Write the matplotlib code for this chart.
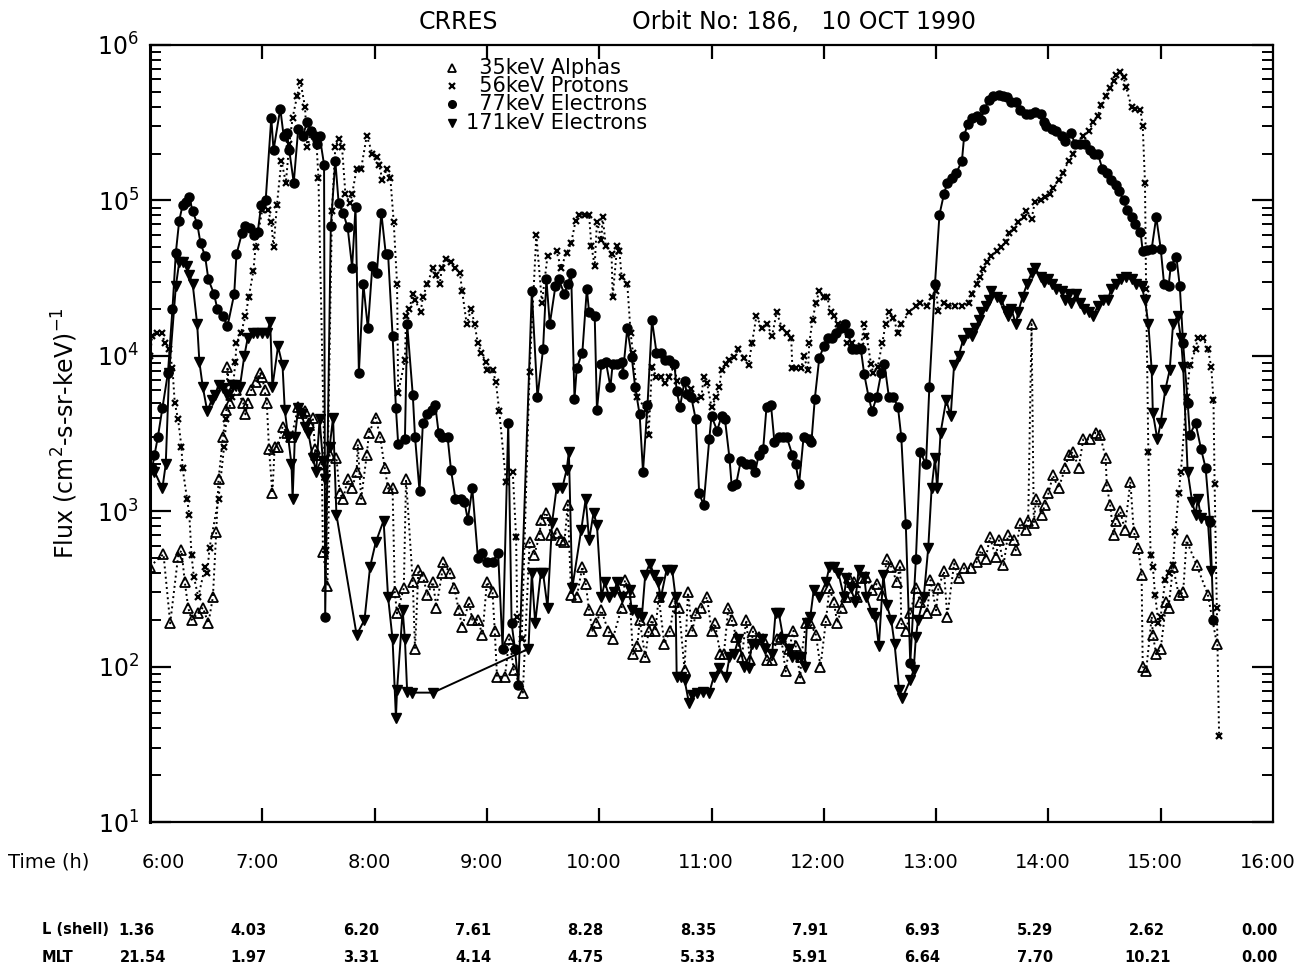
import numpy as np
import matplotlib
matplotlib.use("Agg")
from matplotlib import pyplot as plt
from matplotlib.lines import Line2D
from matplotlib.ticker import LogLocator, NullFormatter, NullLocator

# --- data (time in hours, flux) ---
e77_t = [6.02, 6.04, 6.07, 6.11, 6.16, 6.20, 6.23, 6.26, 6.29, 6.32, 6.35, 6.38, 6.42, 6.45, 6.49,
         6.52, 6.57, 6.60, 6.65, 6.69, 6.75, 6.77, 6.82, 6.85, 6.89, 6.93, 6.96, 6.99, 7.03, 7.08,
         7.10, 7.16, 7.19, 7.22, 7.24, 7.28, 7.32, 7.36, 7.40, 7.43, 7.47, 7.49, 7.51, 7.55, 7.56,
         7.61, 7.65, 7.68, 7.72, 7.76, 7.80, 7.83, 7.86, 7.90, 7.94, 7.98, 8.02, 8.06, 8.10, 8.12,
         8.16, 8.19, 8.21, 8.27, 8.29, 8.34, 8.36, 8.40, 8.43, 8.47, 8.51, 8.54, 8.57, 8.60, 8.65,
         8.68, 8.72, 8.77, 8.80, 8.83, 8.87, 8.92, 8.96, 9.00, 9.05, 9.10, 9.14, 9.19, 9.22, 9.25,
         9.28, 9.40, 9.45, 9.50, 9.53, 9.56, 9.61, 9.64, 9.69, 9.72, 9.75, 9.78, 9.80, 9.85, 9.89,
         9.91, 9.96, 9.98, 10.02, 10.06, 10.10, 10.12, 10.16, 10.20, 10.21, 10.25, 10.29, 10.32,
         10.36, 10.39, 10.43, 10.47, 10.51, 10.55, 10.59, 10.62, 10.67, 10.69, 10.72, 10.76, 10.78,
         10.82, 10.86, 10.89, 10.93, 10.98, 11.00, 11.05, 11.09, 11.12, 11.16, 11.18, 11.22, 11.26,
         11.31, 11.35, 11.39, 11.42, 11.46, 11.49, 11.53, 11.56, 11.60, 11.64, 11.67, 11.72, 11.75,
         11.78, 11.82, 11.87, 11.89, 11.92, 11.96, 12.00, 12.04, 12.07, 12.11, 12.15, 12.19, 12.22,
         12.25, 12.29, 12.33, 12.36, 12.40, 12.43, 12.47, 12.51, 12.54, 12.58, 12.62, 12.66, 12.69,
         12.73, 12.77, 12.82, 12.86, 12.91, 12.94, 12.99, 13.03, 13.07, 13.10, 13.14, 13.18, 13.23,
         13.25, 13.28, 13.32, 13.36, 13.40, 13.43, 13.47, 13.51, 13.56, 13.60, 13.63, 13.67, 13.71,
         13.75, 13.80, 13.84, 13.88, 13.93, 13.96, 13.98, 14.03, 14.07, 14.12, 14.15, 14.20, 14.24,
         14.28, 14.33, 14.37, 14.41, 14.44, 14.48, 14.52, 14.56, 14.60, 14.63, 14.67, 14.70, 14.74,
         14.77, 14.82, 14.84, 14.88, 14.92, 14.96, 15.00, 15.03, 15.07, 15.09, 15.14, 15.17, 15.20,
         15.24, 15.26, 15.31, 15.36, 15.40, 15.44, 15.47]
e77_f = [1.9e3, 2.3e3, 3.0e3, 4.6e3, 7.8e3, 2.0e4, 4.6e4, 7.4e4, 9.3e4, 9.8e4, 1.05e5, 8.5e4, 7.1e4, 5.3e4, 4.4e4,
         3.1e4, 2.5e4, 2.0e4, 1.8e4, 1.55e4, 2.5e4, 4.5e4, 6.2e4, 6.8e4, 6.6e4, 6.0e4, 6.3e4, 9.3e4, 1.0e5, 3.4e5,
         2.1e5, 3.9e5, 2.6e5, 2.7e5, 2.1e5, 1.3e5, 2.9e5, 2.6e5, 3.2e5, 2.8e5, 2.6e5, 2.3e5, 2.6e5, 1.7e5, 2.1e2,
         6.8e4, 1.8e5, 9.6e4, 8.3e4, 6.7e4, 3.7e4, 9.1e4, 7.8e3, 2.9e4, 1.5e4, 3.8e4, 3.4e4, 8.3e4, 4.5e4, 4.5e4,
         1.35e4, 4.6e3, 2.7e3, 2.9e3, 1.6e4, 5.6e3, 3.0e3, 1.35e3, 3.7e3, 4.2e3, 4.5e3, 4.8e3, 3.2e3, 3.0e3, 3.0e3,
         1.85e3, 1.2e3, 1.2e3, 1.15e3, 8.8e2, 1.4e3, 5.0e2, 5.4e2, 4.7e2, 4.7e2, 5.4e2, 1.3e2, 3.7e3, 1.9e2, 1.3e2,
         7.6e1, 2.6e4, 5.4e3, 1.1e4, 3.1e4, 1.6e4, 2.8e4, 3.1e4, 2.5e4, 2.9e4, 3.4e4, 5.3e3, 8.3e3, 1.05e4, 2.7e4,
         1.9e4, 1.8e4, 4.5e3, 8.9e3, 9.1e3, 6.3e3, 8.9e3, 8.9e3, 9.1e3, 7.6e3, 1.5e4, 9.8e3, 6.3e3,
         4.2e3, 1.8e3, 4.8e3, 1.7e4, 1.05e4, 1.05e4, 9.4e3, 9.4e3, 8.9e3, 5.9e3, 4.7e3, 6.9e3, 5.7e3,
         5.4e3, 3.9e3, 1.3e3, 1.1e3, 2.9e3, 4.1e3, 3.3e3, 4.1e3, 3.9e3, 2.2e3, 1.45e3, 1.5e3, 2.1e3,
         2.0e3, 2.0e3, 1.8e3, 2.3e3, 2.5e3, 4.7e3, 4.8e3, 2.8e3, 3.0e3, 3.0e3, 3.0e3, 2.3e3, 2.0e3,
         1.5e3, 3.0e3, 2.9e3, 2.8e3, 5.3e3, 9.7e3, 1.15e4, 1.3e4, 1.3e4, 1.4e4, 1.5e4, 1.6e4, 1.4e4,
         1.1e4, 1.1e4, 1.1e4, 7.6e3, 5.4e3, 4.4e3, 5.4e3, 7.7e3, 8.9e3, 5.4e3, 5.4e3, 4.7e3, 3.0e3,
         8.3e2, 1.05e2, 4.9e2, 2.4e3, 2.0e3, 6.3e3, 2.9e4, 8.1e4, 1.1e5, 1.3e5, 1.4e5, 1.5e5, 1.8e5,
         2.6e5, 3.1e5, 3.4e5, 3.5e5, 3.3e5, 3.9e5, 4.4e5, 4.7e5, 4.8e5, 4.7e5, 4.6e5, 4.3e5, 4.3e5,
         3.8e5, 3.6e5, 3.6e5, 3.7e5, 3.6e5, 3.2e5, 3.0e5, 2.9e5, 2.8e5, 2.6e5, 2.4e5, 2.7e5, 2.3e5,
         2.3e5, 2.3e5, 2.1e5, 2.0e5, 2.0e5, 1.6e5, 1.5e5, 1.35e5, 1.26e5, 1.15e5, 1.0e5, 8.7e4, 7.8e4,
         7.1e4, 6.3e4, 4.7e4, 4.8e4, 4.9e4, 7.8e4, 4.9e4, 2.9e4, 2.8e4, 3.8e4, 4.3e4, 2.8e4, 1.2e4,
         5.0e3, 3.1e3, 3.7e3, 2.5e3, 1.9e3, 8.5e2, 2.0e2]

p56_t = [6.00, 6.02, 6.06, 6.11, 6.13, 6.17, 6.20, 6.22, 6.25, 6.28, 6.29, 6.33, 6.35, 6.37, 6.39,
         6.43, 6.49, 6.51, 6.53, 6.61, 6.66, 6.68, 6.73, 6.76, 6.77, 6.81, 6.85, 6.88, 6.92, 6.94,
         7.00, 7.05, 7.08, 7.10, 7.13, 7.17, 7.21, 7.24, 7.27, 7.31, 7.34, 7.38, 7.40, 7.44, 7.48,
         7.50, 7.57, 7.62, 7.65, 7.68, 7.71, 7.74, 7.78, 7.80, 7.84, 7.88, 7.93, 7.98, 8.02, 8.04,
         8.07, 8.11, 8.14, 8.17, 8.20, 8.21, 8.27, 8.28, 8.31, 8.34, 8.36, 8.41, 8.43, 8.47, 8.52,
         8.55, 8.58, 8.60, 8.64, 8.68, 8.72, 8.76, 8.78, 8.82, 8.86, 8.89, 8.92, 8.95, 8.99, 9.00,
         9.05, 9.08, 9.11, 9.17, 9.23, 9.26, 9.27, 9.31, 9.38, 9.44, 9.49, 9.54, 9.62, 9.66, 9.71,
         9.75, 9.79, 9.82, 9.87, 9.91, 9.93, 9.96, 9.98, 10.02, 10.03, 10.06, 10.11, 10.12, 10.16,
         10.18, 10.20, 10.25, 10.28, 10.30, 10.34, 10.42, 10.44, 10.47, 10.51, 10.55, 10.59, 10.62,
         10.67, 10.69, 10.76, 10.82, 10.86, 10.91, 10.93, 10.96, 11.00, 11.04, 11.07, 11.09, 11.13,
         11.16, 11.20, 11.24, 11.29, 11.33, 11.36, 11.40, 11.45, 11.49, 11.54, 11.58, 11.63, 11.67,
         11.71, 11.72, 11.75, 11.80, 11.82, 11.86, 11.87, 11.90, 11.93, 11.96, 12.00, 12.03, 12.06,
         12.09, 12.13, 12.18, 12.21, 12.25, 12.29, 12.33, 12.36, 12.38, 12.42, 12.44, 12.48, 12.52,
         12.55, 12.58, 12.62, 12.66, 12.69, 12.76, 12.82, 12.86, 12.92, 12.96, 13.00, 13.02, 13.07,
         13.11, 13.17, 13.23, 13.29, 13.32, 13.36, 13.39, 13.42, 13.45, 13.49, 13.54, 13.58, 13.62,
         13.65, 13.69, 13.73, 13.78, 13.80, 13.85, 13.88, 13.93, 13.97, 14.01, 14.04, 14.09, 14.13,
         14.18, 14.22, 14.27, 14.31, 14.36, 14.40, 14.44, 14.47, 14.51, 14.55, 14.58, 14.60, 14.64,
         14.67, 14.69, 14.74, 14.77, 14.82, 14.84, 14.86, 14.87, 14.89, 14.91, 14.93, 14.95, 14.98,
         15.00, 15.04, 15.07, 15.11, 15.13, 15.16, 15.18, 15.23, 15.26, 15.31, 15.33, 15.38, 15.42,
         15.45, 15.47, 15.48, 15.50, 15.52]
p56_f = [1.0e4, 1.35e4, 1.4e4, 1.4e4, 1.2e4, 1.1e4, 8.3e3, 5.0e3, 3.9e3, 2.6e3, 1.9e3, 1.2e3, 9.5e2, 5.2e2, 3.8e2,
         2.8e2, 4.4e2, 4.0e2, 5.8e2, 1.2e3, 2.6e3, 3.9e3, 5.4e3, 9.1e3, 1.2e4, 1.4e4, 1.8e4, 2.4e4, 3.5e4, 5.0e4,
         8.7e4, 8.7e4, 7.3e4, 5.0e4, 9.3e4, 1.8e5, 1.3e5, 2.3e5, 3.4e5, 4.7e5, 5.8e5, 4.0e5, 2.2e5, 2.8e5, 2.5e5,
         1.4e5, 5.6e2, 8.5e4, 2.2e5, 2.5e5, 2.2e5, 1.1e5, 9.6e4, 1.1e5, 1.6e5, 1.6e5, 2.6e5, 2.0e5, 1.9e5, 1.7e5,
         1.35e5, 1.6e5, 1.4e5, 7.3e4, 2.9e4, 5.8e3, 9.4e3, 1.8e4, 2.0e4, 2.5e4, 2.3e4, 1.9e4, 2.4e4, 2.9e4, 3.7e4,
         3.3e4, 2.9e4, 3.7e4, 4.2e4, 4.0e4, 3.7e4, 3.4e4, 2.6e4, 1.6e4, 2.0e4, 1.6e4, 1.2e4, 1.05e4, 9.1e3, 8.1e3,
         8.1e3, 6.8e3, 4.4e3, 1.55e3, 1.8e3, 6.8e2, 2.1e2, 1.5e2, 7.9e3, 6.0e4, 2.2e4, 4.4e4, 4.7e4, 3.7e4, 4.6e4,
         5.3e4, 7.4e4, 8.1e4, 8.1e4, 8.1e4, 5.1e4, 3.8e4, 7.3e4, 5.6e4, 7.8e4, 5.1e4, 4.5e4, 2.4e4, 5.1e4,
         4.7e4, 3.2e4, 2.9e4, 1.4e4, 1.05e4, 5.4e3, 4.5e3, 3.1e3, 8.5e3, 7.3e3, 7.3e3, 6.7e3, 7.3e3,
         8.7e3, 6.9e3, 6.7e3, 6.1e3, 5.2e3, 5.4e3, 7.3e3, 6.7e3, 4.7e3, 5.4e3, 6.3e3, 8.1e3, 8.9e3,
         9.4e3, 9.8e3, 1.1e4, 9.7e3, 8.7e3, 1.2e4, 1.8e4, 1.5e4, 1.6e4, 1.35e4, 1.9e4, 1.5e4, 1.4e4,
         1.3e4, 8.3e3, 8.3e3, 8.3e3, 1.0e4, 8.1e3, 1.2e4, 1.7e4, 2.2e4, 2.6e4, 2.4e4, 2.4e4, 1.9e4,
         1.8e4, 1.6e4, 1.5e4, 1.2e4, 1.2e4, 1.1e4, 1.15e4, 1.6e4, 1.35e4, 8.9e3, 7.7e3, 8.5e3, 1.2e4,
         1.6e4, 1.9e4, 1.75e4, 1.4e4, 1.6e4, 1.9e4, 2.1e4, 2.2e4, 2.1e4, 2.4e4, 2.6e4, 1.95e4, 2.2e4,
         2.1e4, 2.1e4, 2.1e4, 2.2e4, 2.5e4, 2.9e4, 3.2e4, 3.6e4, 4.0e4, 4.4e4, 4.7e4, 5.0e4, 5.4e4,
         6.2e4, 6.5e4, 7.3e4, 7.8e4, 8.5e4, 7.6e4, 9.8e4, 1.0e5, 1.05e5, 1.1e5, 1.2e5, 1.35e5, 1.5e5,
         1.8e5, 2.0e5, 2.3e5, 2.6e5, 2.8e5, 3.2e5, 3.5e5, 4.1e5, 4.7e5, 5.3e5, 5.9e5, 6.4e5, 6.7e5,
         6.2e5, 5.4e5, 4.0e5, 3.9e5, 3.8e5, 3.0e5, 1.3e5, 2.7e4, 2.4e3, 5.2e2, 4.4e2, 2.9e2, 1.9e2,
         2.1e2, 3.6e2, 4.0e2, 4.5e2, 7.4e2, 1.3e3, 1.8e3, 5.4e3, 8.7e3, 1.1e4, 1.3e4, 1.3e4, 1.1e4,
         8.5e3, 5.2e3, 1.5e3, 2.4e2, 3.6e1]

e171_t = [6.00, 6.04, 6.11, 6.14, 6.17, 6.23, 6.26, 6.29, 6.33, 6.35, 6.38, 6.42, 6.44, 6.47, 6.51,
          6.55, 6.58, 6.61, 6.65, 6.69, 6.73, 6.76, 6.80, 6.84, 6.87, 6.92, 6.95, 7.00, 7.04, 7.07,
          7.09, 7.14, 7.18, 7.20, 7.23, 7.26, 7.27, 7.29, 7.32, 7.35, 7.38, 7.41, 7.45, 7.48, 7.51,
          7.54, 7.56, 7.60, 7.63, 7.66, 7.84, 7.91, 7.96, 8.01, 8.08, 8.12, 8.16, 8.19, 8.20, 8.25,
          8.27, 8.29, 8.33, 8.52, 9.37, 9.40, 9.43, 9.48, 9.50, 9.54, 9.58, 9.62, 9.67, 9.71, 9.73,
          9.76, 9.84, 9.88, 9.91, 9.95, 9.98, 10.02, 10.05, 10.09, 10.13, 10.16, 10.20, 10.27, 10.29,
          10.34, 10.38, 10.41, 10.45, 10.49, 10.52, 10.55, 10.60, 10.65, 10.68, 10.69, 10.73, 10.76,
          10.80, 10.83, 10.87, 10.92, 10.98, 11.02, 11.07, 11.13, 11.16, 11.20, 11.24, 11.29, 11.33,
          11.36, 11.40, 11.45, 11.48, 11.54, 11.57, 11.60, 11.64, 11.69, 11.72, 11.76, 11.80, 11.83,
          11.85, 11.88, 11.91, 11.96, 12.02, 12.05, 12.09, 12.13, 12.18, 12.20, 12.24, 12.28, 12.31,
          12.36, 12.38, 12.43, 12.46, 12.49, 12.53, 12.56, 12.60, 12.63, 12.67, 12.70, 12.77, 12.80,
          12.82, 12.84, 12.89, 12.93, 12.96, 12.99, 13.01, 13.04, 13.09, 13.13, 13.16, 13.20, 13.24,
          13.28, 13.32, 13.35, 13.38, 13.40, 13.44, 13.47, 13.49, 13.54, 13.58, 13.62, 13.64, 13.67,
          13.71, 13.73, 13.77, 13.81, 13.85, 13.88, 13.93, 13.96, 14.00, 14.03, 14.07, 14.12, 14.15,
          14.18, 14.20, 14.25, 14.28, 14.32, 14.36, 14.40, 14.44, 14.49, 14.53, 14.56, 14.60, 14.65,
          14.69, 14.74, 14.78, 14.83, 14.86, 14.89, 14.92, 14.93, 14.97, 15.00, 15.04, 15.08, 15.11,
          15.15, 15.18, 15.20, 15.24, 15.28, 15.31, 15.33, 15.36, 15.42, 15.45]
e171_f = [1.8e3, 1.8e3, 1.4e3, 2.0e3, 7.7e3, 2.8e4, 4.0e4, 4.0e4, 3.8e4, 3.3e4, 2.9e4, 1.6e4, 9.1e3, 6.3e3, 4.4e3,
          5.2e3, 5.6e3, 6.5e3, 6.2e3, 5.6e3, 6.5e3, 6.5e3, 6.3e3, 1.0e4, 1.3e4, 1.4e4, 1.4e4, 1.4e4, 1.4e4, 1.65e4,
          6.3e3, 1.15e4, 8.7e3, 4.5e3, 3.0e3, 2.0e3, 1.2e3, 3.0e3, 4.6e3, 4.2e3, 3.5e3, 3.2e3, 2.2e3, 1.8e3, 3.9e3,
          2.1e3, 1.6e3, 2.6e3, 4.0e3, 9.5e2, 1.6e2, 2.0e2, 4.4e2, 6.3e2, 8.7e2, 2.8e2, 1.5e2, 4.7e1, 7.1e1, 2.3e2,
          1.5e2, 6.9e1, 6.8e1, 6.8e1, 1.3e2, 4.0e2, 1.9e2, 4.0e2, 4.0e2, 2.4e2, 8.4e2, 1.4e3, 1.4e3, 1.85e3, 2.4e3,
          3.2e2, 7.6e2, 1.2e3, 6.5e2, 9.8e2, 8.1e2, 2.8e2, 3.5e2, 2.8e2, 3.0e2, 3.5e2, 2.8e2, 3.1e2, 2.3e2,
          2.2e2, 2.1e2, 3.9e2, 4.6e2, 3.9e2, 3.5e2, 2.8e2, 4.2e2, 4.2e2, 2.8e2, 8.6e1, 8.6e1, 8.2e1,
          5.8e1, 6.6e1, 6.8e1, 6.9e1, 6.8e1, 8.6e1, 9.8e1, 8.6e1, 1.15e2, 1.2e2, 1.5e2, 1.0e2, 9.8e1,
          1.4e2, 1.4e2, 1.5e2, 1.3e2, 1.2e2, 2.2e2, 2.2e2, 1.5e2, 1.3e2, 1.15e2, 1.15e2, 1.15e2, 1.0e2,
          1.9e2, 2.1e2, 3.1e2, 2.8e2, 3.5e2, 4.4e2, 4.4e2, 4.0e2, 2.8e2, 3.7e2, 3.2e2, 2.6e2, 4.2e2,
          3.8e2, 2.8e2, 2.2e2, 2.1e2, 1.35e2, 3.9e2, 2.5e2, 2.0e2, 1.4e2, 7.1e1, 6.3e1, 8.2e1, 9.5e1,
          1.55e2, 2.0e2, 2.8e2, 5.8e2, 1.4e3, 2.2e3, 1.4e3, 3.2e3, 5.2e3, 4.1e3, 8.7e3, 1.0e4, 1.26e4,
          1.4e4, 1.35e4, 1.5e4, 1.7e4, 1.9e4, 2.1e4, 2.3e4, 2.6e4, 2.4e4, 2.3e4, 1.95e4, 1.8e4, 2.0e4,
          1.6e4, 1.9e4, 2.4e4, 2.9e4, 3.4e4, 3.7e4, 3.2e4, 3.0e4, 3.1e4, 2.9e4, 2.7e4, 2.6e4, 2.3e4,
          2.5e4, 2.2e4, 2.5e4, 2.2e4, 2.0e4, 1.9e4, 1.8e4, 2.1e4, 2.3e4, 2.3e4, 2.7e4, 2.9e4, 3.1e4,
          3.2e4, 3.1e4, 2.9e4, 2.8e4, 2.3e4, 1.6e4, 8.1e3, 4.3e3, 2.9e3, 3.7e3, 6.0e3, 8.1e3, 1.6e4,
          1.8e4, 1.3e4, 8.5e3, 1.8e3, 1.15e3, 9.5e2, 1.2e3, 9.1e2, 8.7e2, 4.1e2]

a35_t = [6.00, 6.12, 6.18, 6.25, 6.28, 6.31, 6.34, 6.37, 6.43, 6.47, 6.52, 6.56, 6.59, 6.61, 6.65,
         6.68, 6.69, 6.71, 6.77, 6.83, 6.85, 6.87, 6.90, 6.94, 6.98, 7.00, 7.02, 7.04, 7.06, 7.09,
         7.11, 7.14, 7.18, 7.22, 7.26, 7.32, 7.35, 7.38, 7.42, 7.45, 7.47, 7.48, 7.53, 7.54, 7.58,
         7.60, 7.66, 7.69, 7.72, 7.76, 7.80, 7.84, 7.85, 7.88, 7.93, 7.95, 8.01, 8.05, 8.09, 8.12,
         8.16, 8.18, 8.20, 8.26, 8.28, 8.34, 8.36, 8.39, 8.43, 8.47, 8.52, 8.55, 8.60, 8.61, 8.67,
         8.71, 8.75, 8.78, 8.84, 8.87, 8.92, 8.96, 9.00, 9.05, 9.07, 9.09, 9.16, 9.20, 9.24, 9.32,
         9.38, 9.42, 9.47, 9.48, 9.53, 9.57, 9.62, 9.66, 9.69, 9.72, 9.75, 9.80, 9.85, 9.88, 9.91,
         9.94, 9.97, 10.02, 10.08, 10.12, 10.20, 10.23, 10.27, 10.30, 10.34, 10.36, 10.41, 10.44,
         10.47, 10.50, 10.53, 10.58, 10.63, 10.67, 10.71, 10.76, 10.79, 10.83, 10.86, 10.91, 10.96,
         11.00, 11.03, 11.08, 11.11, 11.15, 11.18, 11.22, 11.27, 11.31, 11.34, 11.37, 11.42, 11.46,
         11.49, 11.54, 11.58, 11.62, 11.66, 11.69, 11.73, 11.75, 11.79, 11.80, 11.84, 11.88, 11.93,
         11.97, 12.02, 12.05, 12.09, 12.12, 12.16, 12.20, 12.22, 12.27, 12.30, 12.34, 12.38, 12.43,
         12.47, 12.52, 12.56, 12.60, 12.65, 12.68, 12.69, 12.73, 12.77, 12.82, 12.86, 12.92, 12.95,
         13.00, 13.02, 13.07, 13.10, 13.16, 13.20, 13.25, 13.31, 13.36, 13.40, 13.44, 13.48, 13.53,
         13.56, 13.60, 13.64, 13.69, 13.71, 13.75, 13.80, 13.82, 13.85, 13.87, 13.89, 13.94, 13.97,
         14.00, 14.04, 14.09, 14.15, 14.18, 14.22, 14.27, 14.31, 14.37, 14.42, 14.46, 14.51, 14.52,
         14.55, 14.58, 14.60, 14.64, 14.68, 14.73, 14.76, 14.80, 14.83, 14.84, 14.87, 14.92, 14.93,
         14.96, 15.00, 15.05, 15.07, 15.11, 15.16, 15.20, 15.23, 15.32, 15.42, 15.50]
a35_f = [4.4e2, 5.3e2, 1.9e2, 5.1e2, 5.6e2, 3.5e2, 2.4e2, 2.0e2, 2.2e2, 2.4e2, 1.9e2, 2.8e2, 7.4e2, 1.6e3, 3.0e3,
         4.5e3, 8.5e3, 5.0e3, 6.0e3, 5.0e3, 4.2e3, 5.0e3, 6.0e3, 6.8e3, 7.8e3, 7.3e3, 6.0e3, 5.0e3, 2.5e3, 1.3e3,
         2.6e3, 2.6e3, 3.5e3, 3.2e3, 3.0e3, 4.7e3, 4.3e3, 4.4e3, 3.7e3, 4.0e3, 2.5e3, 2.3e3, 2.0e3, 5.5e2, 3.3e2,
         2.3e3, 2.2e3, 1.3e3, 1.2e3, 1.6e3, 1.4e3, 1.8e3, 2.7e3, 1.2e3, 2.3e3, 3.2e3, 4.0e3, 3.0e3, 1.9e3, 1.4e3,
         1.4e3, 3.0e2, 2.2e2, 3.2e2, 1.6e3, 3.5e2, 1.3e2, 4.2e2, 3.8e2, 2.9e2, 3.5e2, 2.4e2, 4.0e2, 4.7e2, 4.0e2,
         3.2e2, 2.3e2, 1.8e2, 2.6e2, 2.0e2, 2.0e2, 1.6e2, 3.5e2, 3.0e2, 1.7e2, 8.6e1, 8.6e1, 1.5e2, 9.5e1, 6.8e1,
         6.3e2, 5.2e2, 7.0e2, 8.8e2, 9.8e2, 7.0e2, 7.2e2, 6.5e2, 6.3e2, 1.1e3, 2.9e2, 2.8e2, 4.4e2, 3.4e2, 2.3e2,
         1.7e2, 1.9e2, 2.3e2, 1.7e2, 1.5e2, 2.4e2, 3.6e2, 3.0e2, 1.2e2, 1.35e2, 2.0e2, 1.15e2, 1.7e2,
         2.0e2, 1.7e2, 2.8e2, 1.4e2, 1.7e2, 2.6e2, 2.4e2, 9.5e1, 3.0e2, 1.7e2, 2.2e2, 2.4e2, 2.8e2,
         1.7e2, 1.9e2, 1.2e2, 1.2e2, 2.4e2, 2.0e2, 1.55e2, 1.15e2, 2.0e2, 1.1e2, 1.7e2, 1.55e2, 1.5e2,
         1.1e2, 1.1e2, 1.5e2, 1.55e2, 9.3e1, 1.3e2, 1.7e2, 1.35e2, 8.5e1, 1.15e2, 1.9e2, 1.9e2, 1.6e2,
         1.0e2, 2.0e2, 3.2e2, 2.6e2, 1.9e2, 2.4e2, 2.8e2, 3.7e2, 3.5e2, 2.8e2, 3.7e2, 3.8e2, 3.1e2,
         3.4e2, 2.9e2, 4.9e2, 4.4e2, 3.5e2, 4.5e2, 1.9e2, 1.7e2, 2.2e2, 3.2e2, 2.6e2, 2.2e2, 3.6e2,
         2.3e2, 3.2e2, 4.1e2, 2.1e2, 4.6e2, 3.7e2, 4.3e2, 4.3e2, 4.7e2, 5.6e2, 4.9e2, 6.8e2, 5.1e2,
         6.5e2, 4.5e2, 7.0e2, 6.5e2, 5.6e2, 8.4e2, 7.6e2, 8.7e2, 1.6e4, 8.4e2, 1.2e3, 9.5e2, 1.1e3,
         1.3e3, 1.7e3, 1.4e3, 1.9e3, 2.3e3, 2.4e3, 1.9e3, 2.9e3, 2.9e3, 3.2e3, 3.1e3, 2.2e3, 1.45e3,
         1.1e3, 7.0e2, 8.7e2, 1.0e3, 7.6e2, 1.55e3, 7.4e2, 5.8e2, 3.9e2, 1.0e2, 9.3e1, 2.1e2, 1.6e2,
         1.2e2, 1.3e2, 2.6e2, 2.4e2, 4.4e2, 2.9e2, 3.0e2, 6.5e2, 4.5e2, 2.9e2, 1.4e2]

# axis labels under the plot
hours = [6, 7, 8, 9, 10, 11, 12, 13, 14, 15, 16]
lshell = ["1.36", "4.03", "6.20", "7.61", "8.28", "8.35", "7.91", "6.93", "5.29", "2.62", "0.00"]
mlt = ["21.54", "1.97", "3.31", "4.14", "4.75", "5.33", "5.91", "6.64", "7.70", "10.21", "0.00"]

W, H = 1316, 977
fig = plt.figure(figsize=(W / 100, H / 100), dpi=100)
ax = fig.add_axes([150 / W, 1 - 822 / H, 1123 / W, 777 / H])

a_style = dict(color='k', marker='^', ms=7, mfc='none', mew=1.3)
p_style = dict(color='k', marker='x', ms=5, mew=1.6)
e77_style = dict(color='k', marker='o', ms=6.5)
e171_style = dict(color='k', marker='v', ms=7)

ax.plot(a35_t, a35_f, ls=':', lw=1.4, **a_style)
ax.plot(p56_t, p56_f, ls=':', lw=1.4, **p_style)
ax.plot(e77_t, e77_f, ls='-', lw=1.4, **e77_style)
ax.plot(e171_t, e171_f, ls='-', lw=1.4, **e171_style)

ax.set_yscale('log')
ax.set_ylim(10, 1e6)
ax.set_xlim(6, 16)
ax.yaxis.set_major_locator(LogLocator(base=10, numticks=10))
ax.yaxis.set_minor_locator(LogLocator(base=10, subs=np.arange(2, 10), numticks=20))
ax.yaxis.set_minor_formatter(NullFormatter())
ax.set_xticks(hours[1:-1])
ax.xaxis.set_minor_locator(NullLocator())
ax.tick_params(axis='x', which='major', direction='in', length=10, width=1.6,
               top=True, bottom=True, labelbottom=False)
ax.tick_params(axis='y', which='major', direction='in', length=15, width=1.6,
               left=True, right=True, labelsize=17, pad=8)
ax.tick_params(axis='y', which='minor', direction='in', length=8, width=1.4,
               left=True, right=True)
for s in ax.spines.values():
    s.set_linewidth(1.6)
ax.spines['left'].set_linewidth(2.2)

ax.set_ylabel(r'Flux (cm$^2$-s-sr-keV)$^{-1}$', fontsize=17, labelpad=12)

# title pieces
fig.text(458 / W, 1 - 22 / H, 'CRRES', fontsize=17, ha='center', va='center')
fig.text(804 / W, 1 - 22 / H, 'Orbit No: 186,   10 OCT 1990', fontsize=17, ha='center', va='center')

# legend drawn as markers + text near the top
leg_styles = [a_style, p_style, e77_style, e171_style]
leg_labels = ['\u200735keV Alphas', '\u200756keV Protons', '\u200777keV Electrons', '171keV Electrons']
for i, (st, lab) in enumerate(zip(leg_styles, leg_labels)):
    yy = 1 - (68 + 18.2 * i) / H
    st_small = dict(st)
    st_small['ms'] = st['ms'] - 1
    fig.add_artist(Line2D([452 / W], [yy], transform=fig.transFigure, ls='none', **st_small))
    fig.text(466 / W, yy, lab, fontsize=15, ha='left', va='center')

# rows of time, L shell and MLT below the axis
xt = ax.get_xaxis_transform()
fig.text(8 / W, 1 - 862 / H, 'Time (h)', fontsize=14, ha='left', va='center')
for h in hours:
    dx = 0.12 if h == 6 else -0.05
    ax.text(h + dx, -0.052, '%d:00' % h, transform=xt, fontsize=14,
            ha='center', va='center')
fig.text(42 / W, 1 - 930 / H, 'L (shell)', fontsize=10.5, fontweight='bold', ha='left', va='center')
fig.text(42 / W, 1 - 957 / H, 'MLT', fontsize=10.5, fontweight='bold', ha='left', va='center')
for h, l, m in zip(hours, lshell, mlt):
    ax.text(h - 0.12, -0.139, l, transform=xt, fontsize=10.5, fontweight='bold',
            ha='center', va='center')
    ax.text(h - (0.06 if h == 6 else 0.12), -0.174, m, transform=xt, fontsize=10.5,
            fontweight='bold', ha='center', va='center')

fig.savefig('out.png', dpi=100)
